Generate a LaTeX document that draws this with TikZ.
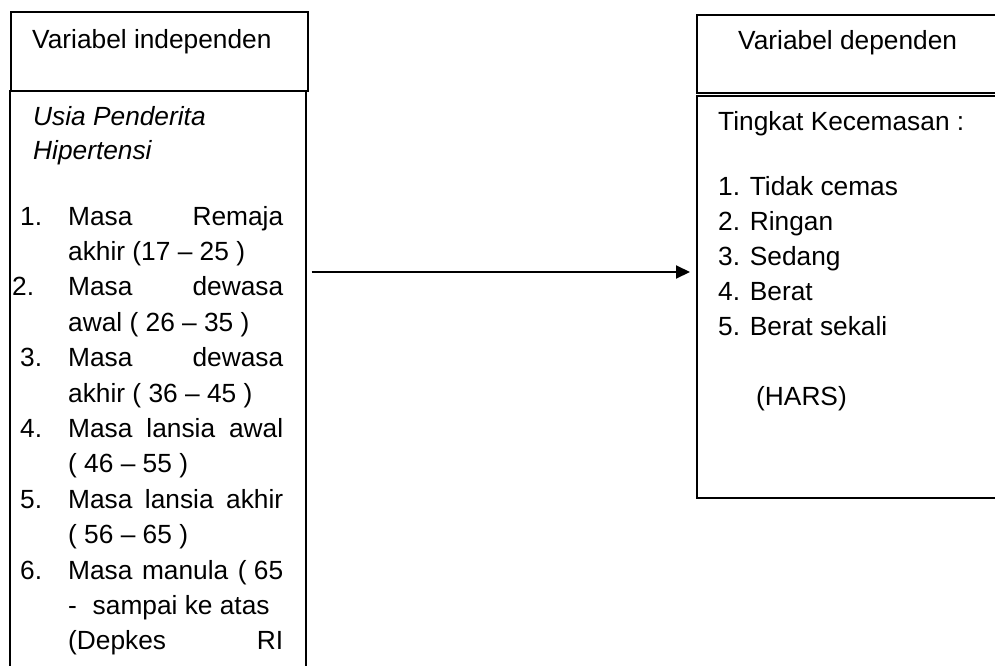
\documentclass[tikz,border=0pt]{standalone}
\usepackage{fontspec}
\setmainfont{Liberation Sans}
\usetikzlibrary{arrows.meta}
\begin{document}
\begin{tikzpicture}[x=1pt,y=-1pt,
  box/.style={draw,line width=1.6pt,anchor=north west,inner sep=0pt,rectangle},
  txt/.style={anchor=base west,inner sep=0pt,font=\fontsize{26.3}{32}\selectfont},
  itxt/.style={txt,font=\fontsize{26.3}{32}\selectfont\itshape},
  conn/.style={line width=2pt,-{Triangle[length=14pt,width=13pt]}}]
\useasboundingbox (0,0) rectangle (995,666);
\clip (0,0) rectangle (995,666);
% boxes
\node[box,minimum width=297pt,minimum height=79pt] (lh) at (10,11) {};
\node[box,minimum width=296pt,minimum height=640pt] (lb) at (9,90) {};
\node[box,minimum width=320pt,minimum height=78pt] (rh) at (696,14) {};
\node[box,minimum width=320pt,minimum height=402pt] (rb) at (696,95) {};
% left texts
\node[txt] (lht) at (32,49) {Variabel independen};
\node[itxt] (l0a) at (33,125) {Usia Penderita};
\node[itxt] (l0b) at (33,159) {Hipertensi};
\node[txt] (n1) at (20,225) {1.};
\node[txt] (t1a) at (68,225) {\makebox[215pt][l]{Masa\hfill Remaja}};
\node[txt] (t1b) at (68,260.4) {akhir (17 – 25 )};
\node[txt] (n2) at (12,295.8) {2.};
\node[txt] (t2a) at (68,295.8) {\makebox[215pt][l]{Masa\hfill dewasa}};
\node[txt] (t2b) at (68,331.2) {awal ( 26 – 35 )};
\node[txt] (n3) at (20,366.6) {3.};
\node[txt] (t3a) at (68,366.6) {\makebox[215pt][l]{Masa\hfill dewasa}};
\node[txt] (t3b) at (68,402) {akhir ( 36 – 45 )};
\node[txt] (n4) at (20,437.4) {4.};
\node[txt] (t4a) at (68,437.4) {\makebox[215pt][l]{Masa\hfill lansia\hfill awal}};
\node[txt] (t4b) at (68,472.8) {( 46 – 55 )};
\node[txt] (n5) at (20,508.2) {5.};
\node[txt] (t5a) at (68,508.2) {\makebox[215pt][l]{Masa\hfill lansia\hfill akhir}};
\node[txt] (t5b) at (68,543.6) {( 56 – 65 )};
\node[txt] (n6) at (20,579) {6.};
\node[txt] (t6a) at (68,579) {\makebox[215pt][l]{Masa\hfill manula\hfill( 65}};
\node[txt] (t6b) at (68,614.4) {-\hspace{0.6em}sampai ke atas};
\node[txt] (t6c) at (68,649.8) {\makebox[215pt][l]{(Depkes\hfill RI}};
% right texts
\node[txt] (rht) at (738,50) {Variabel dependen};
\node[txt] (r0) at (718,130) {Tingkat Kecemasan :};
\node[txt] (r1) at (718,195) {1. Tidak cemas};
\node[txt] (r2) at (718,230) {2. Ringan};
\node[txt] (r3) at (718,265) {3. Sedang};
\node[txt] (r4) at (718,300) {4. Berat};
\node[txt] (r5) at (718,335) {5. Berat sekali};
\node[txt] (r6) at (756,405) {(HARS)};
% connector
\coordinate (ay) at (0,272);
\draw[conn] ([xshift=5pt]lb.east |- ay) -- ([xshift=-6pt]rb.west |- ay);
\end{tikzpicture}
\end{document}
